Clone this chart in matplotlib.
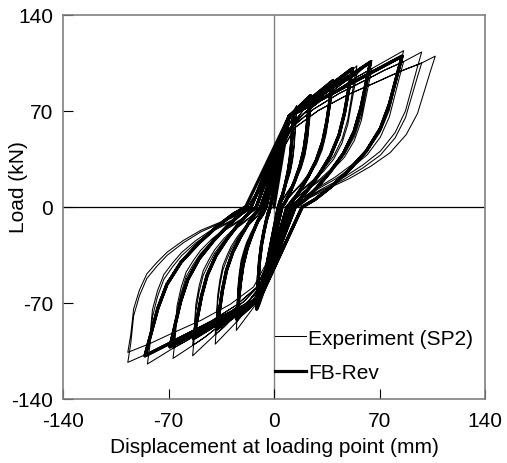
import matplotlib
matplotlib.use("Agg")
import matplotlib.pyplot as plt

# ---------------- data ----------------
# Experiment (SP2): peak points of each loading level (two cycles per level)
exp_pos_disp = [15, 25, 39, 55, 65, 86, 98]
exp_pos_load1 = [74, 82, 92, 103, 107, 114, 113]
exp_pos_load2 = [70, 78, 87, 97, 101, 106, 105]
exp_neg_disp = [-10, -25, -39, -54, -67, -84, -97]
exp_neg_load1 = [-73, -90, -100, -108.5, -110.4, -114.5, -113.3]
exp_neg_load2 = [-68, -84, -93, -101, -103, -107, -106]
exp_final_disp = 107
exp_final_load = 110

# FB-Rev model: peak points of each loading level and the two knee points
fb_pos_disp = [13, 24, 39, 52, 64, 85]
fb_pos_load = [69, 81, 92, 101, 105.7, 110]
fb_neg_disp = [-11.5, -24.8, -38, -53.5, -69, -85.6]
fb_neg_load = [-74.4, -81.7, -89, -96, -102, -108.5]
fb_knee_disp = [10, -9]
fb_knee_load = [66, -66]

# branch shapes (normalised to the peak), read from the outer loops
exp_unload_pos_u = [1, 0.97, 0.93, 0.89, 0.82, 0.72, 0.60, 0.47, 0.33, 0.22, 0.15]
exp_unload_pos_v = [1, 0.90, 0.76, 0.62, 0.48, 0.36, 0.27, 0.19, 0.12, 0.06, 0.0]
exp_unload_neg_u = [1, 0.98, 0.96, 0.92, 0.87, 0.80, 0.73, 0.62, 0.50, 0.38, 0.28, 0.18]
exp_unload_neg_v = [1, 0.88, 0.70, 0.57, 0.46, 0.38, 0.31, 0.23, 0.16, 0.11, 0.066, 0.0]
exp_reload_u = [0.07, 0.14, 0.30, 0.50, 0.70, 0.85, 1.0]
exp_reload_v = [0.42, 0.55, 0.67, 0.78, 0.87, 0.94, 1.0]

fb_unload_u = [1, 0.95, 0.90, 0.83, 0.72, 0.58, 0.44, 0.32, 0.22]
fb_unload_v = [1, 0.84, 0.68, 0.52, 0.37, 0.24, 0.13, 0.05, 0.0]

ticks = [-140, -70, 0, 70, 140]


def exp_loops():
    xs, ys = [0.0], [0.0]
    state = {'pos': None, 'neg': None}

    def load(target, key):
        prev = state[key]
        aim = target
        if prev is not None and abs(prev[0]) < abs(target[0]) - 0.5:
            aim = prev
        for u, v in zip(exp_reload_u, exp_reload_v):
            xs.append(u * aim[0])
            ys.append(v * aim[1])
        if aim is not target:
            xs.append(target[0])
            ys.append(target[1])
        state[key] = target

    def unload(peak, uu, vv):
        for u, v in list(zip(uu, vv))[1:]:
            xs.append(u * peak[0])
            ys.append(v * peak[1])

    for i in range(len(exp_pos_disp)):
        for pl, nl in ((exp_pos_load1[i], exp_neg_load1[i]),
                       (exp_pos_load2[i], exp_neg_load2[i])):
            p = (exp_pos_disp[i], pl)
            n = (exp_neg_disp[i], nl)
            load(p, 'pos')
            unload(p, exp_unload_pos_u, exp_unload_pos_v)
            load(n, 'neg')
            unload(n, exp_unload_neg_u, exp_unload_neg_v)
    fin = (exp_final_disp, exp_final_load)
    load(fin, 'pos')
    unload(fin, exp_unload_pos_u, exp_unload_pos_v)
    return xs, ys


def fb_loops():
    xs, ys = [0.0], [0.0]

    def load(target, k):
        if abs(fb_knee_disp[k]) < abs(target[0]):
            xs.append(fb_knee_disp[k])
            ys.append(fb_knee_load[k])
        xs.append(target[0])
        ys.append(target[1])

    def unload(peak):
        for u, v in list(zip(fb_unload_u, fb_unload_v))[1:]:
            xs.append(u * peak[0])
            ys.append(v * peak[1])

    for i in range(len(fb_pos_disp)):
        for _ in range(2):
            p = (fb_pos_disp[i], fb_pos_load[i])
            n = (fb_neg_disp[i], fb_neg_load[i])
            load(p, 0)
            unload(p)
            load(n, 1)
            unload(n)
    return xs, ys


ex, ey = exp_loops()
fx, fy = fb_loops()

# ---------------- figure ----------------
plt.rcParams['font.family'] = ['Liberation Sans', 'DejaVu Sans']
plt.rcParams['axes.unicode_minus'] = False

fig = plt.figure(figsize=(5.07, 4.64), dpi=100)
ax = fig.add_axes([63 / 507, 1 - 400 / 464, 422 / 507, 384 / 464])

ax.axvline(0, color='#808080', lw=1.0, zorder=1)
ax.axhline(0, color='black', lw=0.9, zorder=1)

ax.plot(ex, ey, color='black', lw=0.75, label='Experiment (SP2)', zorder=2,
        solid_joinstyle='round')
ax.plot(fx, fy, color='black', lw=2.3, label='FB-Rev', zorder=3,
        solid_joinstyle='round')

ax.set_xlim(-140, 140)
ax.set_ylim(-140, 140)
ax.set_xticks(ticks)
ax.set_yticks(ticks)
ax.set_xticklabels([str(t) for t in ticks])
ax.set_yticklabels([str(t) for t in ticks])
ax.tick_params(direction='in', length=7, width=0.8, labelsize=15,
               colors='black')
ax.tick_params(axis='x', pad=9)
ax.tick_params(axis='y', pad=7)
for s in ax.spines.values():
    s.set_color('#808080')
    s.set_linewidth(1.2)

ax.set_xlabel('Displacement at loading point (mm)', fontsize=15, labelpad=5)
ax.set_ylabel('Load (kN)', fontsize=15)
ax.yaxis.set_label_coords(-0.083, 0.555)

ax.legend(loc='lower right', bbox_to_anchor=(1.012, 0.0), frameon=False,
          fontsize=15, handlelength=1.5, handletextpad=0.1,
          labelspacing=0.75, borderaxespad=0.4)

fig.savefig('out.png', dpi=100)
